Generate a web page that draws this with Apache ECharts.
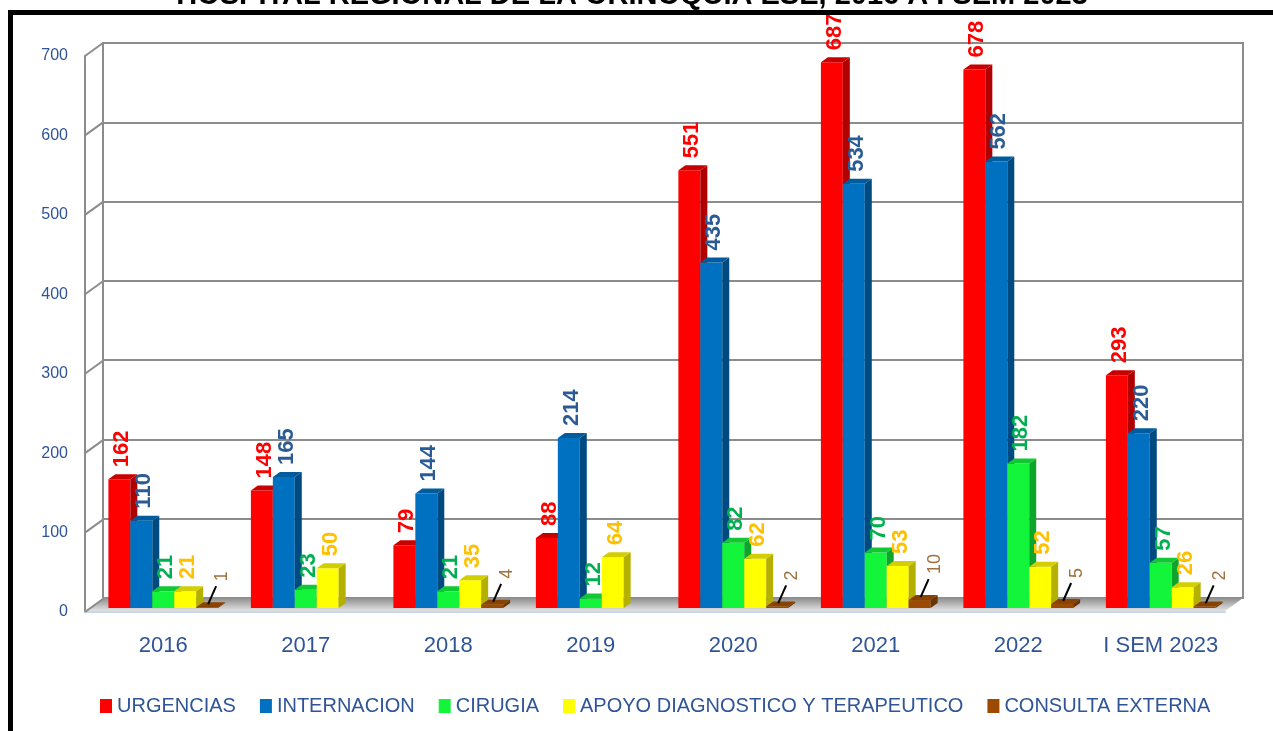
<!DOCTYPE html>
<html>
<head>
<meta charset="utf-8">
<script src="https://cdn.jsdelivr.net/npm/echarts@6/dist/echarts.min.js"></script>
<style>
  html, body { margin: 0; padding: 0; background: #fff; }
  #chart { width: 1273px; height: 731px; }
</style>
</head>
<body>
<div id="chart"></div>
<script>
// datos
const categories = ['2016', '2017', '2018', '2019', '2020', '2021', '2022', 'I SEM 2023'];
const urgencias = [162, 148, 79, 88, 551, 687, 678, 293];
const internacion = [110, 165, 144, 214, 435, 534, 562, 220];
const cirugia = [21, 23, 21, 12, 82, 70, 182, 57];
const apoyo = [21, 50, 35, 64, 62, 53, 52, 26];
const consulta = [1, null, 4, null, 2, 10, 5, 2];
const yTicks = [0, 100, 200, 300, 400, 500, 600, 700];
const seriesNames = ['URGENCIAS', 'INTERNACION', 'CIRUGIA', 'APOYO DIAGNOSTICO Y TERAPEUTICO', 'CONSULTA EXTERNA'];

const FONT = '"Liberation Sans", Arial, sans-serif';
const AXIS_BLUE = '#2F5597';

const colores = [
  { front: '#FF0000', side: '#B00000', top: '#C80000', label: '#FF0000' },
  { front: '#0070C0', side: '#004A82', top: '#005C9E', label: '#2B5B94' },
  { front: '#12F53A', side: '#0EA52C', top: '#10C832', label: '#00B050' },
  { front: '#FFFF00', side: '#B5B000', top: '#D2CE00', label: '#FFC000' },
  { front: '#9C4A00', side: '#6A3300', top: '#8A4200', label: '#A0703C' }
];

let myChart = echarts.init(document.getElementById('chart'));

// barra 3D: cara frontal, lateral y superior
function barraRender(k) {
  return function (params, api) {
    const v = api.value(1);
    if (v == null || isNaN(v)) return;
    const c = api.coord([api.value(0), v]);
    const base = api.coord([api.value(0), 0]);
    const band = api.size([1, 0])[0];
    const w = band * 0.154;
    const x0 = c[0] - 2.5 * w + k * w;
    const x1 = x0 + w;
    const yT = c[1], yB = base[1];
    const dx = 7, dy = 5;
    const col = colores[k];
    const cx = (x0 + x1) / 2;
    const children = [
      { type: 'rect', shape: { x: x0, y: yT, width: w, height: yB - yT }, style: { fill: col.front } },
      { type: 'polygon', shape: { points: [[x1, yT], [x1 + dx, yT - dy], [x1 + dx, yB - dy], [x1, yB]] }, style: { fill: col.side } },
      { type: 'polygon', shape: { points: [[x0, yT], [x0 + dx, yT - dy], [x1 + dx, yT - dy], [x1, yT]] }, style: { fill: col.top } }
    ];
    if (k === 4) {
      children.push({ type: 'line', z2: 90, shape: { x1: cx + 1, y1: yT - 3, x2: cx + 9, y2: yT - 21 }, style: { stroke: '#000', lineWidth: 2 } });
      children.push({
        type: 'text', z2: 100, x: cx + 15, y: yT - 26, rotation: Math.PI / 2,
        style: { text: String(v), fill: col.label, font: '18px ' + FONT, align: 'left', verticalAlign: 'middle' }
      });
    } else {
      children.push({
        type: 'text', z2: 100, x: cx + 3, y: yT - 12, rotation: Math.PI / 2,
        style: { text: String(v), fill: col.label, font: 'bold 22px ' + FONT, align: 'left', verticalAlign: 'middle' }
      });
    }
    return { type: 'group', children: children };
  };
}

const datos = [urgencias, internacion, cirugia, apoyo, consulta];

const barSeries = datos.map(function (arr, k) {
  return {
    name: seriesNames[k],
    type: 'custom',
    xAxisIndex: 1,
    yAxisIndex: 1,
    z: 5,
    itemStyle: { color: colores[k].front },
    renderItem: barraRender(k),
    encode: { x: 0, y: 1 },
    data: arr.map(function (v, i) { return [i, v]; })
  };
});

const option = {
  backgroundColor: '#fff',
  animation: false,
  textStyle: { fontFamily: FONT },
  graphic: [
    {
      type: 'text', x: 632, y: -4, z: 10,
      style: {
        text: 'HOSPITAL REGIONAL DE LA ORINOQUIA ESE, 2016 A I SEM 2023',
        font: 'bold 29px ' + FONT, fill: '#000', align: 'center', verticalAlign: 'middle'
      }
    },
    {
      type: 'rect', z: 10,
      shape: { x: 10.5, y: 12.5, width: 1300, height: 800 },
      style: { fill: 'none', stroke: '#000', lineWidth: 5 }
    }
  ],
  legend: {
    data: seriesNames,
    top: 691,
    left: 95,
    icon: 'rect',
    itemWidth: 12,
    itemHeight: 14,
    itemGap: 24,
    textStyle: { color: AXIS_BLUE, fontSize: 20, fontFamily: FONT }
  },
  grid: [
    // plano frontal (etiquetas del eje Y)
    { left: 85, top: 56, width: 1140, height: 556 },
    // plano de las barras
    { left: 92, top: 52, width: 1140, height: 556 },
    // pared del fondo
    { left: 103, top: 43, width: 1140, height: 555, show: true, borderColor: '#8C8C8C', borderWidth: 2 }
  ],
  xAxis: [
    {
      gridIndex: 0, type: 'value', min: 0, max: 1,
      axisLine: { show: true, lineStyle: { color: '#C9D7EC', width: 2 } },
      axisTick: { show: false }, axisLabel: { show: false }, splitLine: { show: false }
    },
    {
      gridIndex: 1, type: 'category', data: categories,
      axisLine: { show: false }, axisTick: { show: false }, splitLine: { show: false },
      axisLabel: { interval: 0, color: AXIS_BLUE, fontSize: 22, margin: 27, fontFamily: FONT }
    },
    {
      gridIndex: 2, type: 'category', data: categories, show: false
    }
  ],
  yAxis: [
    {
      gridIndex: 0, type: 'value', min: 0, max: 700, interval: 100,
      axisLine: { show: true, lineStyle: { color: '#8C8C8C', width: 2 } },
      axisTick: { show: false }, splitLine: { show: false },
      axisLabel: { color: AXIS_BLUE, fontSize: 16, margin: 17, fontFamily: FONT }
    },
    {
      gridIndex: 1, type: 'value', min: 0, max: 700, interval: 100, show: false, splitLine: { show: false }
    },
    {
      gridIndex: 2, type: 'value', min: 0, max: 700, interval: 100,
      axisLine: { show: false }, axisTick: { show: false }, axisLabel: { show: false },
      splitLine: { show: true, lineStyle: { color: '#8C8C8C', width: 2 } }
    }
  ],
  series: [
    {
      // suelo
      type: 'custom', xAxisIndex: 0, yAxisIndex: 0, z: 1, silent: true,
      data: [[0, 0]],
      renderItem: function (params, api) {
        const p0 = api.coord([0, 0]);
        const p1 = api.coord([1, 0]);
        return {
          type: 'polygon',
          shape: { points: [[p0[0], p0[1] - 1], [p1[0], p1[1] - 1], [p1[0] + 18, p1[1] - 14], [p0[0] + 18, p0[1] - 14]] },
          style: {
            fill: new echarts.graphic.LinearGradient(0, 0, 0, 1, [
              { offset: 0, color: '#8E8E8E' },
              { offset: 1, color: '#E4E4E4' }
            ])
          }
        };
      }
    },
    {
      // diagonales de la pared izquierda
      type: 'custom', xAxisIndex: 0, yAxisIndex: 0, z: 1, silent: true,
      data: yTicks.map(function (t) { return [0, t]; }),
      renderItem: function (params, api) {
        const p = api.coord([0, api.value(1)]);
        return {
          type: 'line',
          shape: { x1: p[0], y1: p[1], x2: p[0] + 18, y2: p[1] - 13 },
          style: { stroke: '#8C8C8C', lineWidth: 2 }
        };
      }
    }
  ].concat(barSeries)
};

myChart.setOption(option);
</script>
</body>
</html>
